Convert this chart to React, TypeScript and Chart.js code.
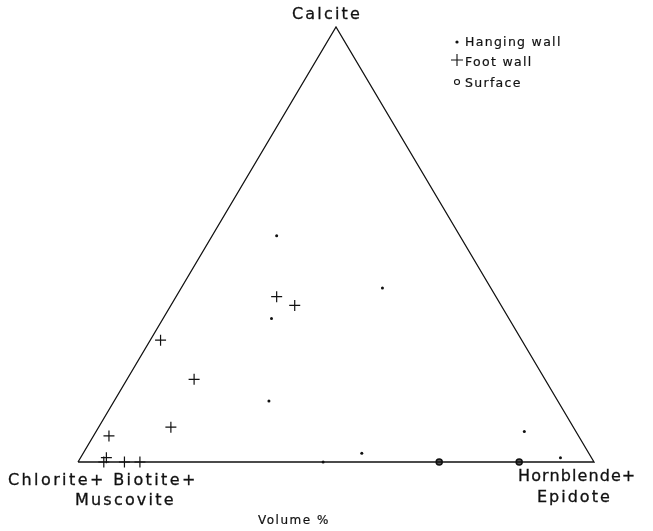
import React, { useEffect, useRef } from "react";
import { Chart, registerables } from "chart.js";

Chart.register(...registerables);

// Ternary compositions (volume %): Calcite, Chlorite+Biotite+Muscovite, Hornblende+Epidote
const hangingCalcite = [52, 40, 33, 14, 0, 2, 7, 1];
const hangingChlorite = [35.5, 21, 46, 56, 52.5, 44, 10, 6];
const hangingHornblende = [12.5, 39, 21, 30, 47.5, 54, 83, 93];

const footCalcite = [38, 36, 28, 19, 8, 6, 0, 1, 0, 0];
const footChlorite = [42.5, 40, 70, 68, 78, 91, 95, 94, 91, 88];
const footHornblende = [19.5, 24, 2, 13, 14, 3, 5, 5, 9, 12];

const surfaceCalcite = [0, 0];
const surfaceChlorite = [30, 14.5];
const surfaceHornblende = [70, 85.5];

const apexLabels = ["Calcite", "Chlorite+ Biotite+", "Muscovite", "Hornblende+", "Epidote"];
const legendLabels = ["Hanging wall", "Foot wall", "Surface"];
const unitLabel = "Volume %";

function toXY(c: number[], h: number[]) {
  return c.map((cv, i) => ({ x: (h[i] + cv / 2) / 100, y: cv / 100 }));
}

const FONT = '"DejaVu Sans", sans-serif';

function drawText(ctx: CanvasRenderingContext2D, t: string, x: number, y: number) {
  ctx.fillText(t, x, y);
  ctx.strokeText(t, x, y);
}

const labelPlugin = {
  id: "ternaryLabels",
  afterDraw(chart: any) {
    const ctx = chart.ctx as CanvasRenderingContext2D;
    ctx.save();
    ctx.fillStyle = "#111";
    ctx.strokeStyle = "#111";
    ctx.lineWidth = 0.3;
    ctx.textBaseline = "alphabetic";
    (ctx as any).letterSpacing = "2.2px";
    ctx.font = `16px ${FONT}`;
    ctx.textAlign = "center";
    drawText(ctx, apexLabels[0], 327, 19);
    ctx.textAlign = "left";
    (ctx as any).letterSpacing = "2.4px";
    drawText(ctx, apexLabels[1], 8, 485);
    (ctx as any).letterSpacing = "2.2px";
    drawText(ctx, apexLabels[2], 75, 505);
    (ctx as any).letterSpacing = "1.1px";
    drawText(ctx, apexLabels[3], 518, 481);
    (ctx as any).letterSpacing = "2px";
    drawText(ctx, apexLabels[4], 537, 502);
    (ctx as any).letterSpacing = "1.5px";
    ctx.lineWidth = 0.2;
    ctx.font = `12px ${FONT}`;
    drawText(ctx, unitLabel, 258, 524);
    // legend
    (ctx as any).letterSpacing = "1.3px";
    ctx.font = `12.5px ${FONT}`;
    drawText(ctx, legendLabels[0], 465, 46);
    drawText(ctx, legendLabels[1], 465, 66);
    drawText(ctx, legendLabels[2], 465, 87);
    ctx.lineWidth = 1.1;
    ctx.beginPath();
    ctx.arc(457, 42, 1.6, 0, Math.PI * 2);
    ctx.fill();
    ctx.beginPath();
    ctx.moveTo(451, 60);
    ctx.lineTo(463, 60);
    ctx.moveTo(457, 54);
    ctx.lineTo(457, 66);
    ctx.stroke();
    ctx.beginPath();
    ctx.arc(457, 82, 2.5, 0, Math.PI * 2);
    ctx.stroke();
    ctx.restore();
  },
};

export default function App() {
  const ref = useRef<HTMLCanvasElement | null>(null);
  useEffect(() => {
    if (!ref.current) return;
    const chart = new Chart(ref.current, {
      type: "scatter",
      data: {
        datasets: [
          {
            label: "triangle",
            data: [
              { x: 0, y: 0 },
              { x: 0.5, y: 1 },
              { x: 1, y: 0 },
              { x: 0, y: 0 },
            ],
            showLine: true,
            borderColor: "#111",
            borderWidth: 1.3,
            pointRadius: 0,
            clip: false,
          } as any,
          {
            label: legendLabels[0],
            data: toXY(hangingCalcite, hangingHornblende),
            pointStyle: "circle",
            pointRadius: 1.5,
            backgroundColor: "#111",
            borderColor: "#111",
            borderWidth: 0,
            clip: false,
          } as any,
          {
            label: legendLabels[1],
            data: toXY(footCalcite, footHornblende),
            pointStyle: "cross",
            pointRadius: 5.5,
            borderColor: "#111",
            borderWidth: 1.2,
            clip: false,
          } as any,
          {
            label: legendLabels[2],
            data: toXY(surfaceCalcite, surfaceHornblende),
            pointStyle: "circle",
            pointRadius: 3,
            backgroundColor: "#555",
            borderColor: "#111",
            borderWidth: 1.5,
            clip: false,
          } as any,
        ],
      },
      options: {
        animation: false,
        responsive: false,
        layout: { padding: { left: 78, right: 59, top: 27, bottom: 69 } },
        scales: {
          x: { type: "linear", min: 0, max: 1, display: false },
          y: { type: "linear", min: 0, max: 1, display: false },
        },
        plugins: {
          legend: { display: false },
          tooltip: { enabled: false },
        },
      },
      plugins: [labelPlugin],
    });
    return () => chart.destroy();
  }, []);
  return (
    <div style={{ position: "fixed", left: 0, top: 0, width: 653, height: 531, background: "#fff" }}>
      <canvas ref={ref} width={653} height={531} style={{ display: "block" }} />
    </div>
  );
}
